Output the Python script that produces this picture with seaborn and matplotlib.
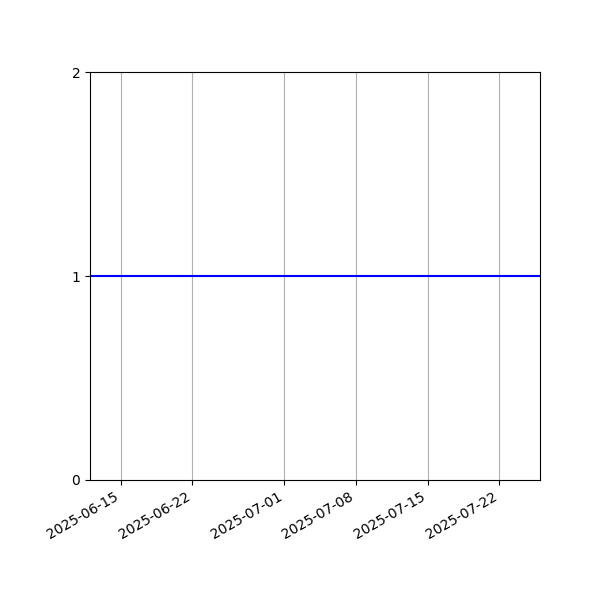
import matplotlib
matplotlib.use("Agg")
import matplotlib.pyplot as plt
import seaborn as sns
import pandas as pd

dates = ["2025-06-12", "2025-07-26"]
values = [1, 1]
y_ticks = [0, 1, 2]

df = pd.DataFrame({"date": pd.to_datetime(dates), "value": values})

fig, ax = plt.subplots(figsize=(6, 6), dpi=100)
sns.lineplot(data=df, x="date", y="value", color="blue", ax=ax)
ax.set_xlim(df["date"].min(), df["date"].max())
ax.set_ylim(0, 2)
ax.set_yticks(y_ticks)
ax.grid(True, axis="x")
ax.set_xlabel("")
ax.set_ylabel("")
fig.subplots_adjust(left=0.15, right=0.9, top=0.88, bottom=0.2)
fig.canvas.draw()
for lbl in ax.get_xticklabels():
    lbl.set_rotation(30)
    lbl.set_ha("right")
    lbl.set_rotation_mode("default")
fig.savefig("out.png", dpi=100)
